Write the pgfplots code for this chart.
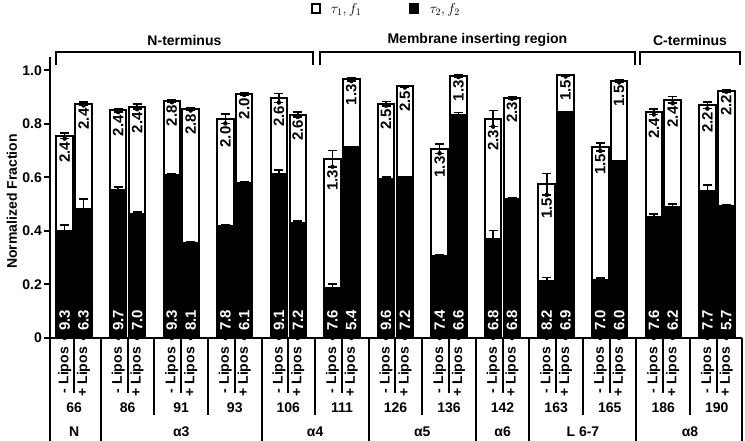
\documentclass[border=0pt]{standalone}
\usepackage{pgfplots}
\pgfplotsset{compat=1.18}
\usepackage{pgfplotstable}
\usepackage{fontspec}
\setmainfont{Liberation Sans}
\newcommand\fs[1]{\fontsize{#1pt}{#1pt}\selectfont\bfseries}

\pgfplotstableread{
x black total eb et t1 t2
-0.176 0.400 0.755 0.022 0.010 2.4 9.3
0.176 0.485 0.875 0.035 0.006 2.4 6.3
0.824 0.555 0.851 0.010 0.007 2.4 9.7
1.176 0.465 0.865 0.005 0.010 2.4 7.0
1.824 0.610 0.886 0.002 0.005 2.8 9.3
2.176 0.358 0.855 0.003 0.005 2.8 8.1
2.824 0.420 0.820 0.004 0.018 2.0 7.8
3.176 0.582 0.913 0.003 0.005 2.0 6.1
3.824 0.615 0.897 0.012 0.017 2.6 9.1
4.176 0.432 0.835 0.005 0.009 2.6 7.2
4.824 0.188 0.670 0.013 0.030 1.3 7.6
5.176 0.714 0.966 0.002 0.006 1.3 5.4
5.824 0.596 0.876 0.005 0.008 2.5 9.6
6.176 0.602 0.940 0.002 0.004 2.5 7.2
6.824 0.307 0.708 0.005 0.018 1.3 7.4
7.176 0.835 0.979 0.008 0.004 1.3 6.6
7.824 0.372 0.820 0.030 0.030 2.3 6.8
8.176 0.521 0.897 0.002 0.003 2.3 6.8
8.824 0.214 0.575 0.012 0.040 1.5 8.2
9.176 0.845 0.981 0.002 0.004 1.5 6.9
9.824 0.220 0.714 0.005 0.015 1.5 7.0
10.176 0.662 0.959 0.002 0.004 1.5 6.0
10.824 0.453 0.845 0.010 0.010 2.4 7.6
11.176 0.490 0.890 0.010 0.013 2.4 6.2
11.824 0.552 0.869 0.020 0.012 2.2 7.7
12.176 0.496 0.923 0.002 0.003 2.2 5.7
}\data

\begin{document}
\begin{tikzpicture}
\path[use as bounding box] (0,0) rectangle (745pt,440pt);
\begin{axis}[
  at={(50pt,102pt)}, anchor=south west,
  scale only axis, width=692pt, height=281pt,
  xmin=-0.45, xmax=12.47, ymin=0, ymax=1.05,
  axis x line*=bottom, axis y line*=left,
  axis line style={line width=2pt, -},
  clip=false,
  ytick={0,0.2,0.4,0.6,0.8,1.0},
  yticklabels={0,0.2,0.4,0.6,0.8,1.0},
  ytick style={line width=2pt, black},
  tick align=outside, major tick length=6pt,
  y tick label style={font=\fs{14}, inner sep=2pt},
  xtick=data, xtick style={draw=none},
  xticklabels={- Lipos,+ Lipos,- Lipos,+ Lipos,- Lipos,+ Lipos,- Lipos,+ Lipos,- Lipos,+ Lipos,- Lipos,+ Lipos,- Lipos,+ Lipos,- Lipos,+ Lipos,- Lipos,+ Lipos,- Lipos,+ Lipos,- Lipos,+ Lipos,- Lipos,+ Lipos,- Lipos,+ Lipos},
  x tick label style={rotate=90, anchor=east, font=\fs{14}, inner sep=3pt},
  ylabel={Normalized Fraction},
  ylabel style={font=\fs{14}, at={(axis description cs:-0.055,0.486)}, anchor=center},
  legend style={at={(axis description cs:0.486,1.171)}, anchor=center, draw=none, fill=none,
    legend columns=2, font=\fontsize{14pt}{14pt}\selectfont,
    /tikz/every even column/.append style={column sep=46pt}},
]
\addlegendimage{legend image code/.code={\draw[line width=2pt, draw=black, fill=white] (0pt,-4.5pt) rectangle (8pt,4.5pt); \path (17pt,0pt);}}
\addlegendentry{\fontsize{14pt}{14pt}\selectfont$\tau_1, f_1$}
\addlegendimage{legend image code/.code={\draw[line width=2pt, draw=black, fill=black] (0pt,-4.5pt) rectangle (8pt,4.5pt); \path (17pt,0pt);}}
\addlegendentry{\fontsize{14pt}{14pt}\selectfont$\tau_2, f_2$}

\addplot[forget plot, ybar, bar width=0.308, bar shift=0pt, draw=black, line width=2pt, fill=white,
  error bars/.cd, y dir=both, y explicit,
  error bar style={line width=1.6pt, black},
  error mark options={rotate=90, line width=1.6pt, mark size=4.5pt, black}]
  table[x=x, y=total, y error=et] {\data};
\addplot[forget plot, ybar, bar width=0.308, bar shift=0pt, draw=black, line width=1pt, fill=black,
  error bars/.cd, y dir=plus, y explicit,
  error bar style={line width=1.6pt, black},
  error mark options={rotate=90, line width=1.6pt, mark size=4.5pt, black}]
  table[x=x, y=black, y error=eb] {\data};

\addplot[forget plot, only marks, mark=*, mark options={draw=none, fill=none},
  nodes near coords, point meta=explicit symbolic,
  nodes near coords align={anchor=east},
  every node near coord/.append style={rotate=90, anchor=east, font=\fs{15}, inner sep=3pt, text=black}]
  table[x=x, y expr=\thisrow{total}-\thisrow{et}, meta=t1] {\data};
\addplot[forget plot, only marks, mark=*, mark options={draw=none, fill=none},
  nodes near coords, point meta=explicit symbolic,
  nodes near coords align={anchor=west},
  every node near coord/.append style={rotate=90, anchor=west, font=\fs{15}, inner sep=7pt, text=white}]
  table[x=x, y expr=0, meta=t2] {\data};

% separators below the axis
\pgfplotsinvokeforeach{0,1,2,3,4,5,6,7,8,9,10,11,12}{
  \draw[line width=2pt] (axis cs:#1,0) -- (axis cs:#1,-0.205);
}
\pgfplotsinvokeforeach{1.5,2.5,4.5,6.5,9.5,11.5}{
  \draw[line width=2pt] (axis cs:#1,0) -- (axis cs:#1,-0.287);
}
\pgfplotsinvokeforeach{-0.45,0.5,3.5,5.5,7.5,8.5,10.5,12.47}{
  \draw[line width=2pt] (axis cs:#1,0) -- (axis cs:#1,-0.40);
}
% residue numbers
\node[font=\fs{14}] at (axis cs:0,-0.261) {66};
\node[font=\fs{14}] at (axis cs:1,-0.261) {86};
\node[font=\fs{14}] at (axis cs:2,-0.261) {91};
\node[font=\fs{14}] at (axis cs:3,-0.261) {93};
\node[font=\fs{14}] at (axis cs:4,-0.261) {106};
\node[font=\fs{14}] at (axis cs:5,-0.261) {111};
\node[font=\fs{14}] at (axis cs:6,-0.261) {126};
\node[font=\fs{14}] at (axis cs:7,-0.261) {136};
\node[font=\fs{14}] at (axis cs:8,-0.261) {142};
\node[font=\fs{14}] at (axis cs:9,-0.261) {163};
\node[font=\fs{14}] at (axis cs:10,-0.261) {165};
\node[font=\fs{14}] at (axis cs:11,-0.261) {186};
\node[font=\fs{14}] at (axis cs:12,-0.261) {190};
% groups
\node[font=\fs{14}] at (axis cs:0,-0.351) {N};
\node[font=\fs{14}] at (axis cs:2,-0.351) {α3};
\node[font=\fs{14}] at (axis cs:4.5,-0.351) {α4};
\node[font=\fs{14}] at (axis cs:6.5,-0.351) {α5};
\node[font=\fs{14}] at (axis cs:8,-0.351) {α6};
\node[font=\fs{14}] at (axis cs:9.5,-0.351) {L 6-7};
\node[font=\fs{14}] at (axis cs:11.5,-0.351) {α8};
% brackets
\draw[line width=2pt] (axis cs:-0.336,1.019) |- (axis cs:4.46,1.067) -- (axis cs:4.46,1.019);
\draw[line width=2pt] (axis cs:4.59,1.019) |- (axis cs:10.47,1.067) -- (axis cs:10.47,1.019);
\draw[line width=2pt] (axis cs:10.57,1.019) |- (axis cs:12.43,1.067) -- (axis cs:12.43,1.019);
\node[font=\fs{14}] at (axis cs:2.06,1.112) {N-terminus};
\node[font=\fs{14}] at (axis cs:7.53,1.112) {Membrane inserting region};
\node[font=\fs{14}] at (axis cs:11.5,1.112) {C-terminus};
\end{axis}
\end{tikzpicture}
\end{document}
